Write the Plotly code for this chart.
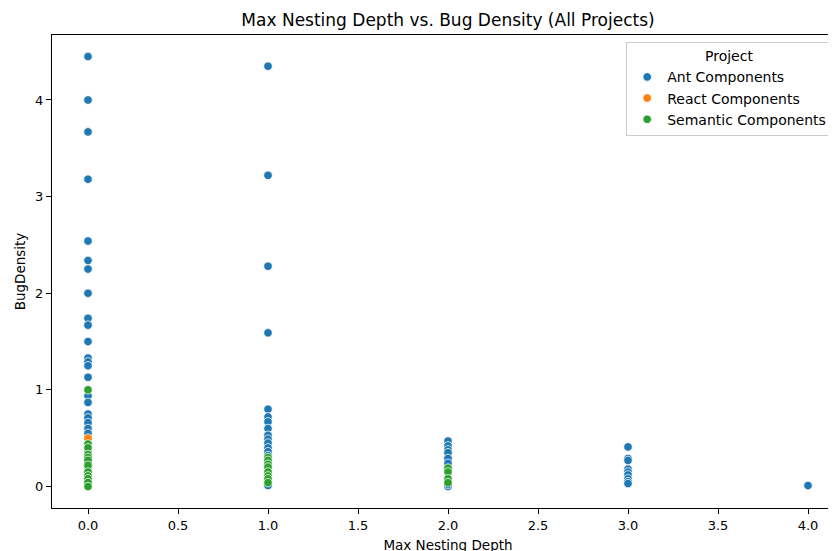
import plotly.graph_objects as go

projects = ["Ant Components", "React Components", "Semantic Components"]
colors = ["#1f77b4", "#ff7f0e", "#2ca02c"]

ant_depth = [0]*25 + [1]*16 + [2]*8 + [3]*9 + [4]
ant_density = [4.45, 4.0, 3.67, 3.18, 2.54, 2.34, 2.25, 2.0, 1.74, 1.67, 1.5, 1.33, 1.29, 1.25, 1.13,
               0.94, 0.87, 0.75, 0.71, 0.66, 0.6, 0.55, 0.35, 0.2, 0.05,
               4.35, 3.22, 2.28, 1.59, 0.80, 0.72, 0.67, 0.60, 0.53, 0.49, 0.45, 0.40, 0.36, 0.32, 0.01, 0.05,
               0.47, 0.42, 0.38, 0.35, 0.29, 0.24, 0.0, 0.02,
               0.41, 0.29, 0.27, 0.18, 0.15, 0.12, 0.08, 0.05, 0.03,
               0.01]

react_depth = [0]
react_density = [0.5]

sem_depth = [0]*12 + [1]*8 + [2]*4
sem_density = [1.0, 0.44, 0.40, 0.33, 0.30, 0.27, 0.22, 0.15, 0.11, 0.08, 0.04, 0.0,
               0.30, 0.27, 0.23, 0.20, 0.15, 0.11, 0.08, 0.04,
               0.19, 0.15, 0.08, 0.04]

x_ticks = [0.0, 0.5, 1.0, 1.5, 2.0, 2.5, 3.0, 3.5, 4.0]
y_ticks = [0, 1, 2, 3, 4]

series = [(ant_depth, ant_density), (react_depth, react_density), (sem_depth, sem_density)]

fig = go.Figure()
for name, color, (xs, ys) in zip(projects, colors, series):
    fig.add_trace(go.Scatter(
        x=xs, y=ys, mode="markers", name=name,
        marker=dict(color=color, size=8.5, line=dict(color="white", width=0.75)),
    ))

font = "DejaVu Sans"
fig.update_layout(
    width=836, height=551,
    margin=dict(l=44, r=0, t=27, b=51),
    plot_bgcolor="white", paper_bgcolor="white",
    font=dict(family=font, size=13, color="black"),
    title=dict(text="Max Nesting Depth vs. Bug Density (All Projects)", x=440/836, xref="container",
               xanchor="center", y=1 - 12/551, yanchor="middle", yref="container",
               font=dict(size=17, family=font, color="black")),
    showlegend=True,
    legend=dict(
        title=dict(text="Project", side="top center", font=dict(size=14, family=font)),
        x=0.725, y=0.985, xanchor="left", yanchor="top",
        bordercolor="#cccccc", borderwidth=1, bgcolor="rgba(255,255,255,0.8)",
        font=dict(size=14, family=font), tracegroupgap=0,
    ),
    xaxis=dict(
        range=[-0.2, 4.2], tickvals=x_ticks, ticktext=[f"{v:.1f}" for v in x_ticks],
        showgrid=False, zeroline=False, showline=True, linecolor="black", linewidth=1, mirror=True,
        ticks="outside", ticklen=5, tickcolor="black", automargin=False,
        title=dict(text="Max Nesting Depth", standoff=8, font=dict(size=13.5, family=font)),
    ),
    yaxis=dict(
        range=[-0.2225, 4.6725], tickvals=y_ticks, ticktext=[str(v) for v in y_ticks],
        showgrid=False, zeroline=False, showline=True, linecolor="black", linewidth=1, mirror=False,
        ticks="outside", ticklen=5, tickcolor="black", automargin=False,
        title=dict(text="BugDensity", standoff=6, font=dict(size=13.5, family=font)),
    ),
)

fig.write_html("out.html")
